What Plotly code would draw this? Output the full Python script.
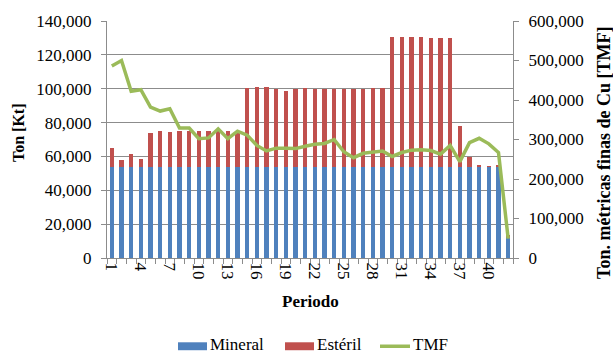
import plotly.graph_objects as go

# Production schedule per period
periodo = list(range(1, 43))

mineral = [54000, 54000, 54000, 54000, 54000, 54000, 54000, 54000, 54000, 54000,
           54000, 54000, 54000, 54000, 54000, 54000, 54000, 54000, 54000, 54000,
           54000, 54000, 54000, 54000, 54000, 54000, 54000, 54000, 54000, 54000,
           54000, 54000, 54000, 54000, 54000, 54000, 54000, 54000, 54000, 54000,
           54000, 12000]

esteril = [11200, 3800, 7500, 4600, 19800, 21200, 20200, 21200, 21200, 21200,
           21200, 21200, 21200, 21300, 46200, 47000, 46800, 45600, 44800, 45600,
           46400, 45600, 45600, 45600, 46000, 45600, 45600, 46500, 46600, 76300,
           76300, 76300, 76300, 76000, 76000, 76000, 23900, 5700, 700, 300,
           700, 1300]

tmf = [486000, 500000, 422000, 426000, 382000, 372000, 378000, 329000, 329000, 302000,
       304000, 327000, 302000, 321000, 311000, 285000, 271000, 278000, 278000, 277000,
       283000, 288000, 290000, 300000, 269000, 254000, 265000, 267000, 271000, 257000,
       267000, 273000, 274000, 272000, 263000, 285000, 244000, 292000, 303000, 289000,
       267000, 49000]

x_ticks = [1, 4, 7, 10, 13, 16, 19, 22, 25, 28, 31, 34, 37, 40]

BLUE = "#4F81BD"
RED = "#C0504D"
GREEN = "#9BBB59"
GRID = "#8C8C8C"
FONT = "Liberation Serif"

# plot area in pixels
W, H = 613, 354
L, R, T, B = 107, 100, 19, 96
PW, PH = W - L - R, H - T - B


def px(x):
    return (x - L) / PW


def py(y):
    return (H - B - y) / PH


fig = go.Figure()
fig.add_trace(go.Bar(x=periodo, y=mineral, name="Mineral", marker_color=BLUE,
                     marker_line_width=0))
fig.add_trace(go.Bar(x=periodo, y=esteril, name="Estéril", marker_color=RED,
                     marker_line_width=0))
fig.add_trace(go.Scatter(x=periodo, y=tmf, name="TMF", yaxis="y2", mode="lines",
                         line=dict(color=GREEN, width=3.5)))

tick_font = dict(family=FONT, size=17, color="black")

fig.update_layout(
    width=W, height=H,
    margin=dict(l=L, r=R, t=T, b=B, pad=0),
    paper_bgcolor="white", plot_bgcolor="white",
    font=dict(family=FONT, size=17, color="black"),
    barmode="stack", bargap=0.58,
    showlegend=False,
    xaxis=dict(range=[0.5, 42.5], tickmode="array", tickvals=x_ticks,
               ticks="", tickangle=90, tickfont=tick_font,
               showline=True, linecolor=GRID, linewidth=1,
               showgrid=False, zeroline=False,
               minor=dict(ticks="outside", tick0=0.5, dtick=1, ticklen=5,
                          tickcolor=GRID, tickwidth=1)),
    yaxis=dict(range=[0, 140000], dtick=20000, tickformat=",d",
               ticks="outside", ticklen=5, tickcolor=GRID, tickfont=tick_font,
               ticklabelstandoff=6,
               showline=True, linecolor=GRID, linewidth=1,
               showgrid=True, gridcolor=GRID, gridwidth=1, zeroline=False),
    yaxis2=dict(range=[0, 600000], dtick=100000, tickformat=",d",
                overlaying="y", side="right",
                ticks="outside", ticklen=5, tickcolor=GRID, tickfont=tick_font,
                ticklabelstandoff=6,
                showline=True, linecolor=GRID, linewidth=1,
                showgrid=False, zeroline=False),
)

annotations = [
    dict(text="<b>Ton [Kt]</b>", x=px(18), y=py(132), textangle=-90, size=16),
    dict(text="<b>Ton. métricas finas de Cu [TMF]</b>", x=px(604), y=py(152),
         textangle=-90, size=18),
    dict(text="<b>Periodo</b>", x=0.5, y=py(302), size=17),
    dict(text="Mineral", x=px(209), y=py(345), xanchor="left", size=17),
    dict(text="Estéril", x=px(316), y=py(345), xanchor="left", size=17),
    dict(text="TMF", x=px(412), y=py(345), xanchor="left", size=17),
]
for a in annotations:
    size = a.pop("size")
    a.update(xref="paper", yref="paper", showarrow=False, borderpad=0,
             font=dict(family=FONT, size=size, color="black"))
    a.setdefault("xanchor", "center")
    a.setdefault("yanchor", "middle")
fig.update_layout(annotations=annotations)

# legend keys
shapes = [
    dict(type="rect", x0=px(178), x1=px(207), y0=py(343), y1=py(351),
         fillcolor=BLUE, line_width=0),
    dict(type="rect", x0=px(285), x1=px(314), y0=py(343), y1=py(351),
         fillcolor=RED, line_width=0),
    dict(type="line", x0=px(380), x1=px(410), y0=py(347), y1=py(347),
         line=dict(color=GREEN, width=3.5)),
]
for s in shapes:
    s.update(xref="paper", yref="paper")
fig.update_layout(shapes=shapes)

fig.write_html("out.html")
